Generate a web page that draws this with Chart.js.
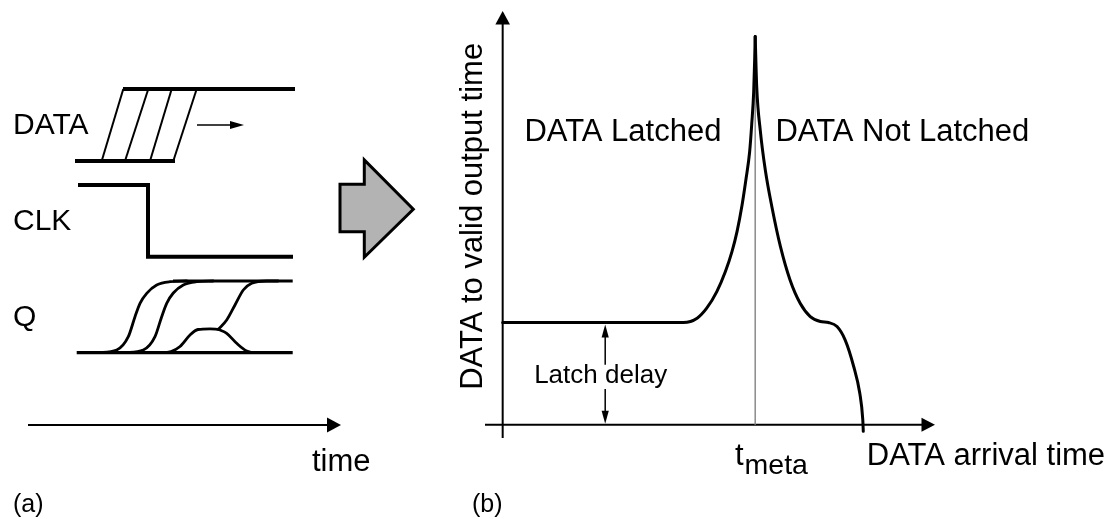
<!DOCTYPE html>
<html>
<head>
<meta charset="utf-8">
<script src="https://cdn.jsdelivr.net/npm/chart.js@4/dist/chart.umd.min.js"></script>
<style>
  html, body { margin: 0; padding: 0; background: #fff; }
  #wrap { position: relative; width: 1120px; height: 519px; }
  #wrap canvas { position: absolute; left: 0; top: 0; }
</style>
</head>
<body>
<div id="wrap">
  <canvas id="timing" width="1120" height="519"></canvas>
  <canvas id="delay" width="1120" height="519"></canvas>
</div>
<script>
const FONT = "'Liberation Sans', Arial, Helvetica, sans-serif";

// ---------- (a) timing waveforms: x = time, y = signal level ----------
const signalNames = ['DATA', 'CLK', 'Q'];
const dataLowLine  = [{x: 4.7, y: 26.4}, {x: 14.7, y: 26.4}];
const dataHighLine = [{x: 9.5, y: 33.6}, {x: 26.7, y: 33.6}];
const dataEdgeStart = [7.37, 9.7, 12.2, 14.53];   // edge leaves low level
const dataEdgeEnd   = [9.53, 12.03, 14.37, 16.87]; // edge reaches high level
const clkWave = [{x: 5.0, y: 24.0}, {x: 12.0, y: 24.0}, {x: 12.0, y: 16.83}, {x: 26.5, y: 16.83}];
const qLowLine  = [{x: 4.87, y: 7.23}, {x: 26.47, y: 7.23}];
const qHighLine = [{x: 14.5, y: 14.4}, {x: 26.47, y: 14.4}];
const qEarly = [{x: 7.0, y: 7.23}, {x: 8.87, y: 7.5}, {x: 10.03, y: 8.83}, {x: 10.7, y: 10.83},
                {x: 11.2, y: 12.17}, {x: 11.87, y: 13.17}, {x: 12.87, y: 14.0}, {x: 14.2, y: 14.33}, {x: 15.87, y: 14.4}];
const qLater = [{x: 9.67, y: 7.23}, {x: 11.53, y: 7.5}, {x: 12.7, y: 8.83}, {x: 13.37, y: 10.83},
                {x: 13.87, y: 12.17}, {x: 14.53, y: 13.2}, {x: 15.53, y: 14.0}, {x: 16.87, y: 14.33}, {x: 18.5, y: 14.4}];
const qMetastable = [{x: 13.0, y: 7.23}, {x: 14.3, y: 7.35}, {x: 15.2, y: 7.85}, {x: 16.2, y: 9.0},
                     {x: 17.0, y: 9.55}, {x: 18.2, y: 9.62}, {x: 19.03, y: 9.57}];
const qResolveHigh = [{x: 19.03, y: 9.57}, {x: 19.87, y: 10.5}, {x: 20.7, y: 12.0}, {x: 21.53, y: 13.5},
                      {x: 22.37, y: 14.17}, {x: 23.87, y: 14.4}, {x: 25.0, y: 14.4}];
const qResolveLow  = [{x: 19.03, y: 9.57}, {x: 19.87, y: 9.17}, {x: 20.87, y: 8.17}, {x: 21.87, y: 7.4},
                      {x: 22.87, y: 7.23}, {x: 24.0, y: 7.23}];

// ---------- (b) DATA-to-output delay vs DATA arrival time ----------
const tMeta = 5.0;
const latchDelay = 1.0;
const delayLatched = [{x: 0, y: 1.0}, {x: 3.58, y: 1.0}, {x: 3.85, y: 1.043}, {x: 4.04, y: 1.141},
                      {x: 4.24, y: 1.303}, {x: 4.41, y: 1.499}, {x: 4.54, y: 1.694}, {x: 4.64, y: 1.89},
                      {x: 4.74, y: 2.151}, {x: 4.82, y: 2.412}, {x: 4.89, y: 2.672}, {x: 4.93, y: 2.933},
                      {x: 4.97, y: 3.258}, {x: 4.99, y: 3.585}, {x: 5.0, y: 3.8}];
const delayNotLatched = [{x: 5.0, y: 3.8}, {x: 5.03, y: 3.307}, {x: 5.1, y: 2.884}, {x: 5.2, y: 2.493},
                         {x: 5.33, y: 2.134}, {x: 5.5, y: 1.743}, {x: 5.69, y: 1.417}, {x: 5.89, y: 1.189},
                         {x: 6.09, y: 1.059}, {x: 6.29, y: 1.01}, {x: 6.45, y: 1.0}, {x: 6.62, y: 0.961},
                         {x: 6.78, y: 0.831}, {x: 6.95, y: 0.57}, {x: 7.07, y: 0.31}, {x: 7.13, y: 0.049},
                         {x: 7.14, y: -0.065}];

// ---------- helpers ----------
function seg(data, width, extra) {
  return Object.assign({
    data, showLine: true, borderColor: '#000', borderWidth: width,
    pointRadius: 0, fill: false, tension: 0, clip: false,
    borderCapStyle: 'butt', borderJoinStyle: 'miter'
  }, extra || {});
}
function smooth(data, width) {
  return seg(data, width, {cubicInterpolationMode: 'monotone', borderCapStyle: 'round', borderJoinStyle: 'round'});
}
function arrowHead(ctx, tx, ty, ang, len, half) {
  const c = Math.cos(ang), s = Math.sin(ang);
  ctx.beginPath();
  ctx.moveTo(tx, ty);
  ctx.lineTo(tx - len * c + half * s, ty - len * s - half * c);
  ctx.lineTo(tx - len * c - half * s, ty - len * s + half * c);
  ctx.closePath();
  ctx.fill();
}
function baseOptions(pad, xr, yr) {
  return {
    responsive: false, animation: false, events: [],
    layout: {padding: pad},
    plugins: {legend: {display: false}, tooltip: {enabled: false}},
    scales: {
      x: {type: 'linear', display: false, min: xr[0], max: xr[1]},
      y: {type: 'linear', display: false, min: yr[0], max: yr[1]}
    }
  };
}

// ---------- (a) decorations: time axis, names, shift arrow, block arrow ----------
const timingDeco = {
  id: 'timingDeco',
  afterDatasetsDraw(chart) {
    const {ctx, scales: {x, y}} = chart;
    const X = v => x.getPixelForValue(v), Y = v => y.getPixelForValue(v);
    ctx.save();
    ctx.fillStyle = '#000';
    ctx.strokeStyle = '#000';

    // time axis
    const y0 = Y(0), tip = X(x.max);
    ctx.lineWidth = 2;
    ctx.beginPath(); ctx.moveTo(X(x.min), y0); ctx.lineTo(tip - 10, y0); ctx.stroke();
    arrowHead(ctx, tip, y0, 0, 14, 7.5);

    // arrow showing DATA edge moving later
    const ay = (dataLowLine[0].y + dataHighLine[0].y) / 2;
    ctx.lineWidth = 1.5;
    ctx.beginPath(); ctx.moveTo(X(16.9), Y(ay)); ctx.lineTo(X(21.6) - 10, Y(ay)); ctx.stroke();
    arrowHead(ctx, X(21.6), Y(ay), 0, 14, 4);

    // signal names
    const mids = [
      (dataLowLine[0].y + dataHighLine[0].y) / 2,
      (clkWave[0].y + clkWave[clkWave.length - 1].y) / 2,
      (qLowLine[0].y + qHighLine[0].y) / 2
    ];
    ctx.font = '30px ' + FONT;
    ctx.textAlign = 'left';
    ctx.textBaseline = 'alphabetic';
    signalNames.forEach((n, i) => ctx.fillText(n, X(0) - 15, Y(mids[i]) + 9));
    ctx.font = '31px ' + FONT;
    ctx.fillText('time', X(28.4), y0 + 45.5);
    ctx.font = '25px ' + FONT;
    ctx.fillText('(a)', X(0) - 15, y0 + 86.5);

    // block arrow pointing to panel (b)
    const pts = [[31.2, 24.07], [33.63, 24.07], [33.63, 26.5], [38.53, 21.57],
                 [33.63, 16.77], [33.63, 19.33], [31.2, 19.33]];
    ctx.beginPath();
    pts.forEach((p, i) => i ? ctx.lineTo(X(p[0]), Y(p[1])) : ctx.moveTo(X(p[0]), Y(p[1])));
    ctx.closePath();
    ctx.fillStyle = '#b3b3b3';
    ctx.fill();
    ctx.lineWidth = 3;
    ctx.lineJoin = 'miter';
    ctx.stroke();
    ctx.restore();
  }
};

const timingSets = [
  seg(dataLowLine, 4),
  seg(dataHighLine, 4),
  ...dataEdgeStart.map((x0, i) => seg([{x: x0, y: dataLowLine[0].y}, {x: dataEdgeEnd[i], y: dataHighLine[0].y}], 2)),
  seg(clkWave, 4),
  seg(qLowLine, 3.2),
  seg(qHighLine, 3),
  smooth(qEarly, 2.8),
  smooth(qLater, 2.8),
  smooth(qMetastable, 2.8),
  smooth(qResolveHigh, 2.8),
  smooth(qResolveLow, 2.8)
];

new Chart(document.getElementById('timing'), {
  type: 'scatter',
  data: {datasets: timingSets},
  options: baseOptions({left: 28, right: 779, top: 80, bottom: 94}, [0, 31.3], [0, 34.5]),
  plugins: [timingDeco]
});

// ---------- (b) axes, annotations and labels ----------
const delayDeco = {
  id: 'delayDeco',
  beforeDatasetsDraw(chart) {
    const {ctx, scales: {x, y}} = chart;
    const X = v => x.getPixelForValue(v), Y = v => y.getPixelForValue(v);
    ctx.save();
    ctx.fillStyle = '#000';
    ctx.strokeStyle = '#000';
    ctx.lineWidth = 2;
    // y axis with arrow
    ctx.beginPath(); ctx.moveTo(X(0), Y(y.min)); ctx.lineTo(X(0), Y(y.max) + 10); ctx.stroke();
    arrowHead(ctx, X(0), Y(y.max), -Math.PI / 2, 13.5, 7.3);
    // x axis with arrow
    ctx.beginPath(); ctx.moveTo(X(x.min), Y(0)); ctx.lineTo(X(x.max) - 10, Y(0)); ctx.stroke();
    arrowHead(ctx, X(x.max), Y(0), 0, 13.5, 7);
    ctx.restore();
  },
  afterDatasetsDraw(chart) {
    const {ctx, scales: {x, y}} = chart;
    const X = v => x.getPixelForValue(v), Y = v => y.getPixelForValue(v);
    ctx.save();
    ctx.fillStyle = '#000';
    ctx.strokeStyle = '#000';
    ctx.textBaseline = 'alphabetic';

    // latch delay dimension arrow, broken around its label
    const ax = X(2.03), top = Y(latchDelay) + 2, bot = Y(0) - 1;
    const fs = 26, base = Y(0.413);
    ctx.lineWidth = 1.5;
    ctx.beginPath();
    ctx.moveTo(ax, top + 10); ctx.lineTo(ax, base - 0.68 * fs);
    ctx.moveTo(ax, base + 0.25 * fs); ctx.lineTo(ax, bot - 10);
    ctx.stroke();
    arrowHead(ctx, ax, top, -Math.PI / 2, 13, 3.6);
    arrowHead(ctx, ax, bot, Math.PI / 2, 13, 3.6);
    ctx.font = fs + 'px ' + FONT;
    ctx.textAlign = 'center';
    ctx.fillText('Latch delay', X(1.94), base);

    // region labels
    ctx.font = '31px ' + FONT;
    ctx.fillText('DATA Latched', X(2.38), Y(2.78));
    ctx.textAlign = 'left';
    ctx.fillText('DATA Not Latched', X(5.4), Y(2.78));

    // x axis labels
    const y0 = Y(0);
    ctx.fillText('t', X(4.6), y0 + 40);
    const tw = ctx.measureText('t').width;
    ctx.font = '28.5px ' + FONT;
    ctx.fillText('meta', X(4.6) + tw + 1, y0 + 49);
    ctx.font = '31px ' + FONT;
    ctx.fillText('DATA arrival time', X(7.21), y0 + 40);

    // y axis title
    ctx.save();
    ctx.translate(X(0) - 21, Y(2.04));
    ctx.rotate(-Math.PI / 2);
    ctx.textAlign = 'center';
    ctx.fillText('DATA to valid output time', 0, 0);
    ctx.restore();

    // panel tag
    ctx.font = '25px ' + FONT;
    ctx.textAlign = 'left';
    ctx.fillText('(b)', X(x.min) - 13, Y(y.min) + 73.5);
    ctx.restore();
  }
};

new Chart(document.getElementById('delay'), {
  type: 'scatter',
  data: {
    datasets: [
      smooth(delayLatched, 3),
      smooth(delayNotLatched, 3),
      seg([{x: tMeta, y: 0}, {x: tMeta, y: delayLatched[delayLatched.length - 1].y}], 1.5, {borderColor: '#8a8a8a'})
    ]
  },
  options: baseOptions({left: 485, right: 185, top: 11, bottom: 81}, [-0.35, 8.56], [-0.13, 4.05]),
  plugins: [delayDeco]
});
</script>
</body>
</html>
